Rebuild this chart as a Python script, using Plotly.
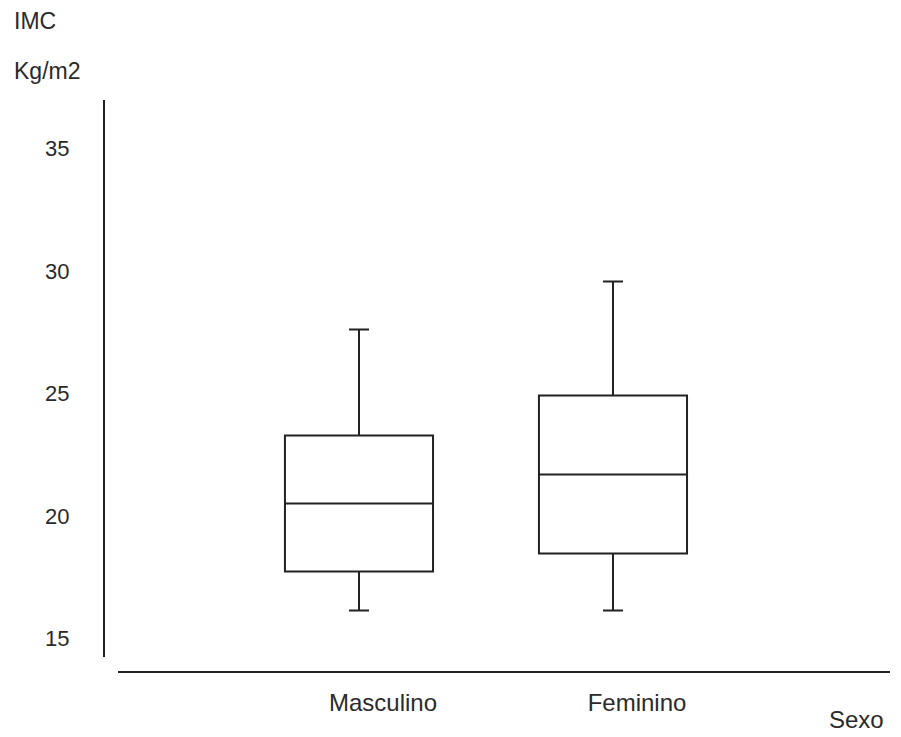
import plotly.graph_objects as go

categories = ["Masculino", "Feminino"]
positions = [1, 2]
lower_fence = [16.14, 16.14]
q1 = [17.73, 18.47]
median = [20.51, 21.69]
q3 = [23.29, 24.92]
upper_fence = [27.61, 29.57]
y_ticks = [15, 20, 25, 30, 35]

W, H = 901, 737
ml, mr, mt, mb = 104, 11, 100, 65
plot_w = W - ml - mr
plot_h = H - mt - mb

fig = go.Figure()
fig.add_trace(go.Box(
    x=positions, q1=q1, median=median, q3=q3,
    lowerfence=lower_fence, upperfence=upper_fence,
    width=0.583, whiskerwidth=0.135,
    fillcolor="white", line=dict(color="#222222", width=2),
    boxpoints=False, hoverinfo="skip", showlegend=False,
))

family = "Liberation Sans, Arial, sans-serif"
font = dict(family=family, size=22, color="#2a2a2a")
font_cat = dict(family=family, size=24, color="#2a2a2a")
font_title = dict(family=family, size=23, color="#2a2a2a")

def px_x(px):
    return (px - ml) / plot_w

def px_y(py):
    return (H - mb - py) / plot_h

fig.update_layout(
    width=W, height=H,
    margin=dict(l=ml, r=mr, t=mt, b=mb, autoexpand=False),
    paper_bgcolor="white", plot_bgcolor="white",
    font=font,
    xaxis=dict(
        domain=[px_x(118), 1],
        range=[0.0512, 3.0906],
        tickvals=positions, ticktext=categories,
        tickfont=font_cat,
        showgrid=False, zeroline=False,
        showline=True, linecolor="#222222", linewidth=2,
        anchor="free", position=0, automargin=False,
        ticks="", ticklabelstandoff=9, ticklabelshift=24,
    ),
    yaxis=dict(
        domain=[px_y(657), 1],
        range=[14.245, 36.98],
        tickvals=y_ticks,
        showgrid=False, zeroline=False,
        showline=True, linecolor="#222222", linewidth=2,
        anchor="free", position=0, automargin=False,
        ticks="", ticklabelstandoff=29,
    ),
    annotations=[
        dict(text="IMC", xref="paper", yref="paper", x=px_x(12), y=px_y(21),
             xanchor="left", yanchor="middle", showarrow=False, font=font_title),
        dict(text="Kg/m2", xref="paper", yref="paper", x=px_x(12), y=px_y(71),
             xanchor="left", yanchor="middle", showarrow=False, font=font_title),
        dict(text="Sexo", xref="paper", yref="paper", x=px_x(856), y=px_y(719),
             xanchor="center", yanchor="middle", showarrow=False, font=font_cat),
    ],
)

fig.write_html("out.html", config={"displayModeBar": False},
               post_script="document.body.style.margin='0';")
